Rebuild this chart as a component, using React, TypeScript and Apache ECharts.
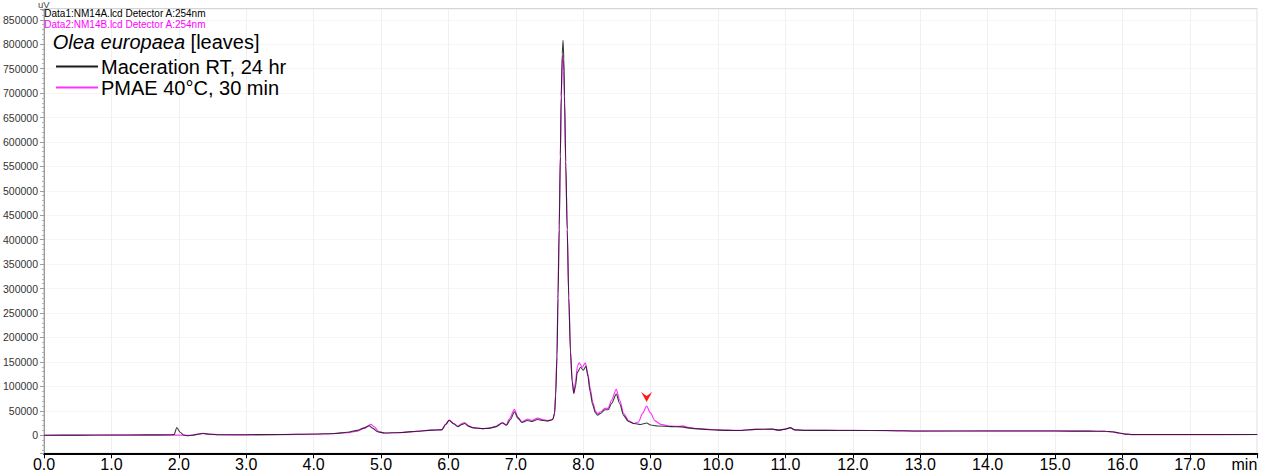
import React, { useEffect, useRef } from "react";
import * as echarts from "echarts";

// ---- Data (retention time in min, signal in uV) ----
const macerationRT: [number, number][] = [
  [0.0, 0], [0.5, 200], [1.0, 400], [1.5, 600], [1.9, 800], [1.93, 1500], [1.97, 15800], [2.02, 6000],
  [2.07, 500], [2.12, -1000], [2.2, 0], [2.3, 2500], [2.36, 3500], [2.45, 2000], [2.6, 1000],
  [3.0, 1000], [3.5, 1500], [4.0, 2500], [4.3, 3500], [4.5, 6000], [4.65, 10000], [4.75, 15000],
  [4.82, 19500], [4.88, 14000], [4.95, 7000], [5.05, 4500], [5.3, 5500], [5.53, 8000], [5.75, 10500],
  [5.9, 11000], [5.96, 22000], [6.01, 30500], [6.08, 23000], [6.14, 17500], [6.2, 22000], [6.24, 24000],
  [6.3, 18000], [6.37, 15000], [6.5, 13500], [6.6, 14000], [6.7, 17000], [6.8, 25000], [6.86, 20500],
  [6.92, 32000], [6.98, 48000], [7.03, 35000], [7.09, 26000], [7.17, 30000], [7.24, 28000], [7.32, 32000],
  [7.4, 30000], [7.47, 29000], [7.53, 31000], [7.55, 33000], [7.575, 45000], [7.59, 80000], [7.61, 160000],
  [7.625, 280000], [7.643, 421000], [7.66, 570000], [7.673, 694000], [7.688, 780000], [7.7, 808000],
  [7.712, 770000], [7.722, 694000], [7.74, 560000], [7.762, 421000], [7.785, 280000], [7.81, 170000],
  [7.835, 110000], [7.86, 86000], [7.885, 100000], [7.91, 128000], [7.96, 139000], [8.0, 133000],
  [8.04, 141000], [8.07, 120000], [8.1, 90000], [8.14, 62000], [8.18, 46000], [8.21, 41000], [8.26, 45000],
  [8.32, 52000], [8.37, 52000], [8.42, 65000], [8.49, 84000], [8.54, 65000], [8.6, 40000], [8.67, 28000],
  [8.75, 24000], [8.85, 22000], [8.94, 25000], [9.0, 21000], [9.1, 19000], [9.3, 17500], [9.45, 17000],
  [9.6, 14000], [9.8, 12000], [10.0, 10500], [10.3, 9500], [10.55, 12000], [10.8, 12500], [10.9, 10500],
  [11.0, 12500], [11.07, 15500], [11.14, 11000], [11.3, 10000], [11.6, 10000], [12.0, 9500], [12.5, 9500],
  [13.0, 8500], [14.0, 8500], [15.0, 8500], [15.5, 8300], [15.75, 8000], [15.85, 7000], [15.95, 4500],
  [16.05, 2200], [16.15, 1500], [17.0, 1500], [18.0, 1500],
];

const pmae40C: [number, number][] = [
  [0.0, -300], [0.5, -200], [1.0, 0], [1.5, 200], [1.9, 300], [2.0, 300], [2.12, -500], [2.2, 0],
  [2.3, 2800], [2.36, 3800], [2.45, 2200], [2.6, 1000], [3.0, 800], [3.5, 1200], [4.0, 2000], [4.3, 3000],
  [4.5, 5000], [4.65, 8500], [4.75, 14000], [4.85, 22000], [4.9, 17000], [4.97, 7000], [5.05, 4500],
  [5.3, 5500], [5.53, 8000], [5.75, 10500], [5.9, 11500], [5.96, 22500], [6.01, 31000], [6.08, 24000],
  [6.14, 18500], [6.2, 24000], [6.24, 26000], [6.3, 19000], [6.37, 15500], [6.5, 13500], [6.6, 14500],
  [6.7, 18000], [6.8, 26000], [6.86, 21000], [6.9, 33000], [6.98, 53000], [7.03, 37000], [7.09, 27000],
  [7.17, 33000], [7.24, 30000], [7.32, 35000], [7.4, 32000], [7.47, 30000], [7.53, 32000], [7.55, 33000],
  [7.575, 46000], [7.59, 85000], [7.61, 165000], [7.625, 290000], [7.643, 430000], [7.66, 575000],
  [7.673, 690000], [7.688, 760000], [7.7, 777000], [7.712, 745000], [7.722, 680000], [7.74, 550000],
  [7.762, 420000], [7.785, 285000], [7.81, 175000], [7.835, 112000], [7.86, 85000], [7.885, 110000],
  [7.915, 142000], [7.94, 148000], [7.985, 139000], [8.03, 148000], [8.07, 125000], [8.1, 98000],
  [8.14, 68000], [8.18, 50000], [8.21, 44000], [8.26, 48000], [8.32, 55000], [8.37, 55000], [8.42, 72000],
  [8.49, 94000], [8.54, 72000], [8.6, 44000], [8.67, 30000], [8.75, 24000], [8.82, 27000], [8.88, 45000],
  [8.94, 59500], [9.0, 45000], [9.06, 30000], [9.15, 22000], [9.3, 18500], [9.42, 18000], [9.48, 19000],
  [9.55, 16000], [9.7, 13500], [9.9, 11500], [10.0, 11000], [10.3, 9800], [10.55, 12000], [10.8, 12500],
  [10.9, 10500], [11.0, 12500], [11.07, 15000], [11.14, 11000], [11.3, 10200], [11.6, 10000], [12.0, 9800],
  [12.5, 9500], [13.0, 8500], [14.0, 8700], [15.0, 8700], [15.5, 8300], [15.75, 8000], [15.85, 7000],
  [15.95, 4500], [16.05, 2200], [16.15, 1300], [17.0, 1300], [18.0, 1500],
];

const seriesNames = ["Maceration RT, 24 hr", "PMAE 40°C, 30 min"];
const seriesColors = ["#1a1a1a", "#ff33ff"];
const fileLabels = ["Data1:NM14A.lcd Detector A:254nm", "Data2:NM14B.lcd Detector A:254nm"];
const titleItalic = "Olea europaea";
const titleRest = " [leaves]";
const yUnit = "uV";
const xUnit = "min";
const arrowPoint: [number, number] = [8.94, 78000];

const FONT = "'Liberation Sans', Arial, Helvetica, sans-serif";

export default function App() {
  const ref = useRef<HTMLDivElement>(null);

  useEffect(() => {
    document.body.style.margin = "0";
    if (!ref.current) return;
    const chart = echarts.init(ref.current, undefined, { renderer: "svg" });

    const option: any = {
      animation: false,
      backgroundColor: "#ffffff",
      textStyle: { fontFamily: FONT },
      grid: {
        left: 43.3,
        right: 9.7,
        top: 9,
        bottom: 19.7,
        show: true,
        borderColor: "#aaaaaa",
        borderWidth: 1,
        backgroundColor: "transparent",
      },
      legend: {
        show: true,
        orient: "vertical",
        left: 56,
        top: 56.5,
        padding: 0,
        itemWidth: 42,
        itemHeight: 2,
        itemGap: 1,
        icon: "rect",
        selectedMode: false,
        z: 20,
        data: [seriesNames[0], seriesNames[1]],
        textStyle: { fontSize: 20, color: "#000", fontFamily: FONT, padding: [0, 0, 0, -2] },
      },
      xAxis: {
        type: "value",
        min: 0,
        max: 18,
        interval: 1,
        axisLine: { show: true, onZero: false, lineStyle: { color: "#000", width: 2 } },
        axisTick: { show: true, length: 5, lineStyle: { color: "#000", width: 1 } },
        axisLabel: {
          fontSize: 16,
          color: "#000",
          margin: 3,
          fontFamily: FONT,
          alignMaxLabel: "right",
          formatter: (v: number) => (v === 18 ? xUnit : v.toFixed(1)),
        },
        splitLine: { show: true, lineStyle: { color: "#f0f0f0", width: 1 } },
      },
      yAxis: {
        type: "value",
        min: -37000,
        max: 872000,
        splitNumber: 18,
        minInterval: 50000,
        maxInterval: 50000,
        axisLine: { show: true, lineStyle: { color: "#9a9a9a", width: 1 } },
        axisTick: { show: true, length: 4, lineStyle: { color: "#9a9a9a" } },
        minorTick: { show: true, splitNumber: 5, length: 2, lineStyle: { color: "#b0b0b0" } },
        axisLabel: {
          fontSize: 10.5,
          color: "#333",
          margin: 6,
          fontFamily: FONT,
          showMinLabel: false,
          showMaxLabel: false,
          formatter: (v: number) => String(v),
        },
        splitLine: { show: true, lineStyle: { color: "#f5f5f5", width: 1 } },
      },
      series: [
        {
          name: seriesNames[1],
          type: "line",
          data: pmae40C,
          showSymbol: false,
          smooth: 0.25,
          smoothMonotone: "x",
          lineStyle: { color: seriesColors[1], width: 1.2 },
          itemStyle: { color: seriesColors[1] },
          z: 2,
          silent: true,
          markPoint: {
            silent: true,
            symbol: "path://M0,0L5,4L10,0L5,10Z",
            symbolSize: [11, 10],
            itemStyle: { color: "#ff1a1a" },
            label: { show: false },
            data: [{ coord: arrowPoint }],
          },
        },
        {
          name: seriesNames[0],
          type: "line",
          data: macerationRT,
          showSymbol: false,
          smooth: 0.25,
          smoothMonotone: "x",
          lineStyle: { color: seriesColors[0], width: 1.1, opacity: 0.85 },
          itemStyle: { color: seriesColors[0] },
          z: 3,
          silent: true,
        },
      ],
      graphic: [
        {
          type: "text",
          x: 38,
          y: -1,
          z: 100,
          silent: true,
          style: { text: yUnit, fontSize: 9.5, fill: "#444", fontFamily: FONT, verticalAlign: "top" },
        },
        {
          type: "text",
          x: 44.3,
          y: 8.5,
          z: 100,
          silent: true,
          style: { text: fileLabels[0], fontSize: 10, fill: "#000", fontFamily: FONT, verticalAlign: "top" },
        },
        {
          type: "text",
          x: 44.3,
          y: 19,
          z: 100,
          silent: true,
          style: { text: fileLabels[1], fontSize: 10, fill: "#ff00ff", fontFamily: FONT, verticalAlign: "top" },
        },
        {
          type: "text",
          x: 52.7,
          y: 42.2,
          z: 100,
          silent: true,
          style: {
            text: "{i|" + titleItalic + "}" + titleRest,
            fontSize: 20,
            fill: "#000",
            fontFamily: FONT,
            verticalAlign: "middle",
            rich: { i: { fontStyle: "italic", fontSize: 20, fontFamily: FONT, fill: "#000" } },
          },
        },
      ],
    };

    chart.setOption(option);
    return () => chart.dispose();
  }, []);

  return <div ref={ref} style={{ width: 1267, height: 473 }} />;
}
